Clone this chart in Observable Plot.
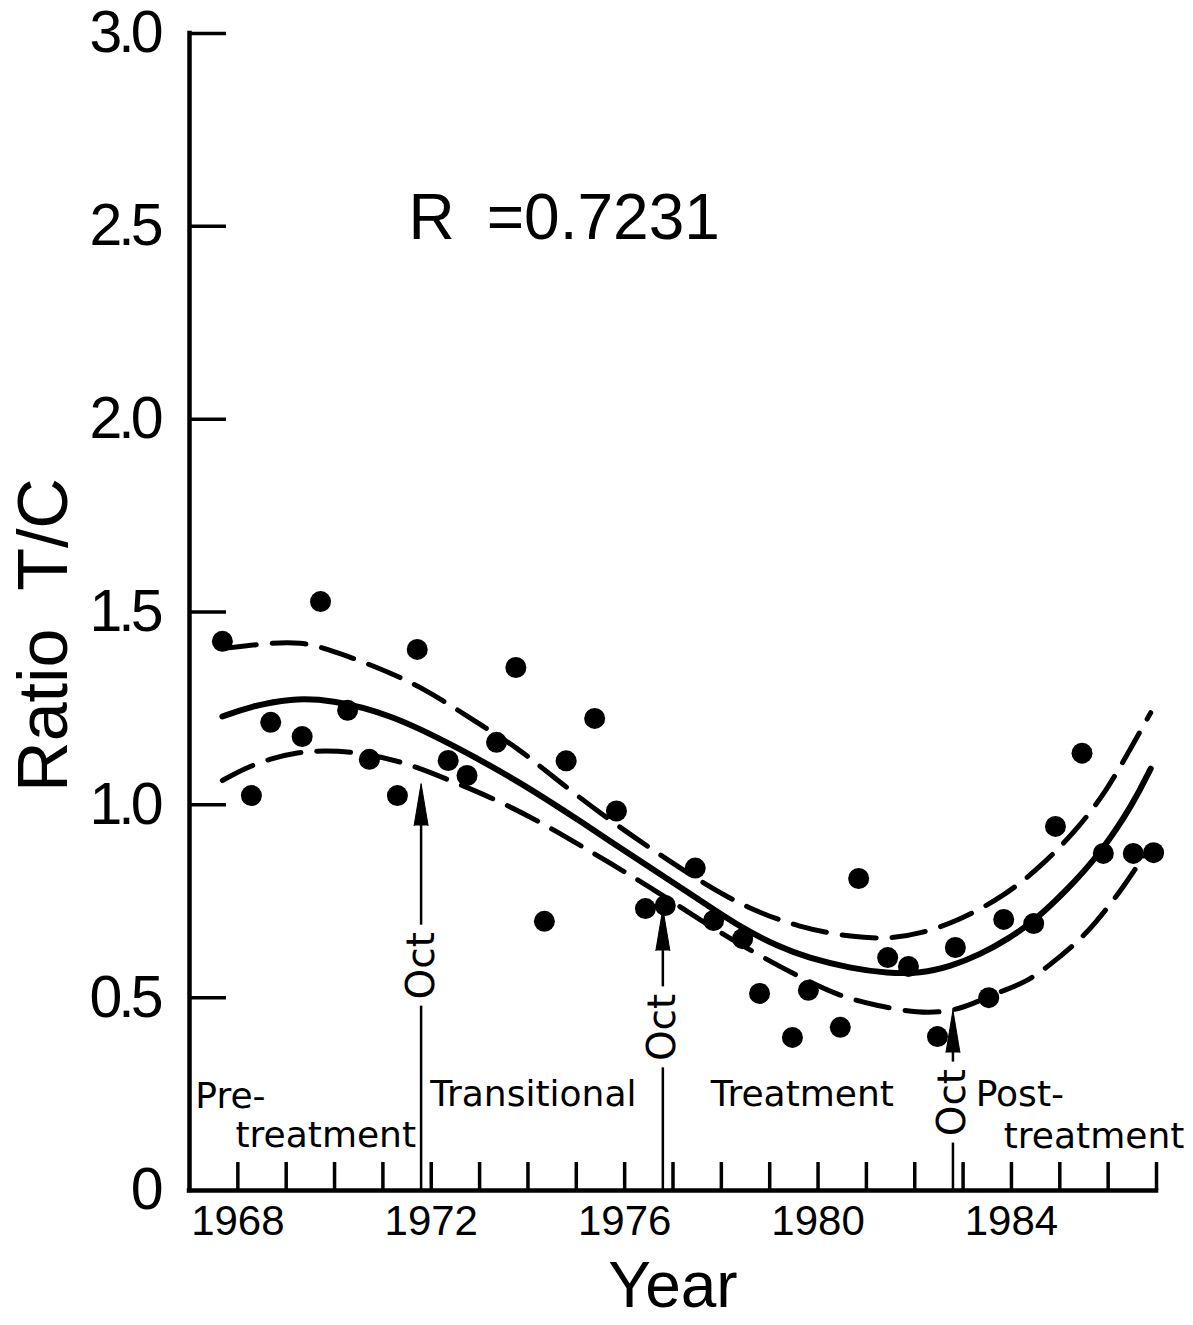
<!DOCTYPE html>
<html>
<head>
<meta charset="utf-8">
<script src="https://cdn.jsdelivr.net/npm/d3@7"></script>
<script src="https://cdn.jsdelivr.net/npm/@observablehq/plot@0.6"></script>
<style>
  html, body { margin: 0; padding: 0; background: #fff; }
  #chart svg { display: block; }
</style>
</head>
<body>
<div id="chart"></div>
<script>
// Observations: year and ratio T/C
const obsYear = [1967.68, 1968.28, 1968.68, 1969.33, 1969.71, 1970.27, 1970.72, 1971.30, 1971.71, 1972.35,
  1972.74, 1973.35, 1973.75, 1974.34, 1974.79, 1975.38, 1975.83, 1976.43, 1976.84, 1977.46,
  1977.84, 1978.44, 1978.79, 1979.47, 1979.80, 1980.46, 1980.84, 1981.44, 1981.87, 1982.47,
  1982.84, 1983.53, 1983.84, 1984.46, 1984.91, 1985.46, 1985.90, 1986.52, 1986.94];
const obsRatio = [1.424, 1.024, 1.214, 1.177, 1.527, 1.245, 1.118, 1.024, 1.403, 1.115,
  1.076, 1.162, 1.356, 0.698, 1.114, 1.224, 0.984, 0.731, 0.739, 0.836,
  0.700, 0.653, 0.511, 0.397, 0.519, 0.423, 0.809, 0.604, 0.581, 0.399,
  0.630, 0.500, 0.703, 0.692, 0.944, 1.134, 0.874, 0.874, 0.876];

// Fitted curve (solid)
const fitYear = [1967.68, 1968.26, 1969.09, 1969.92, 1971.16, 1972.54, 1973.85, 1975.09, 1976.33, 1977.57,
  1978.40, 1979.22, 1979.78, 1980.67, 1981.44, 1982.12, 1982.74, 1983.36, 1983.98, 1984.46,
  1985.12, 1985.84, 1986.52, 1986.88];
const fitRatio = [1.229, 1.255, 1.276, 1.273, 1.235, 1.149, 1.058, 0.957, 0.853, 0.752,
  0.682, 0.630, 0.604, 0.576, 0.563, 0.563, 0.581, 0.612, 0.656, 0.698,
  0.775, 0.874, 1.003, 1.094];

// Upper confidence band (dashed)
const upperYear = [1967.68, 1968.74, 1969.30, 1969.77, 1970.81, 1971.84, 1972.87, 1973.78, 1974.53, 1975.56,
  1976.53, 1977.57, 1978.50, 1979.60, 1980.73, 1981.50, 1982.12, 1982.88, 1983.84, 1984.66,
  1985.43, 1985.99, 1986.42, 1986.88];
const upperRatio = [1.405, 1.421, 1.421, 1.408, 1.361, 1.304, 1.219, 1.149, 1.071, 0.972,
  0.887, 0.801, 0.734, 0.682, 0.656, 0.653, 0.666, 0.698, 0.762, 0.845,
  0.946, 1.042, 1.136, 1.239];

// Lower confidence band (dashed)
const lowerYear = [1967.68, 1968.12, 1968.68, 1969.23, 1969.77, 1970.54, 1971.47, 1972.40, 1973.54, 1974.67,
  1975.71, 1976.74, 1977.57, 1978.67, 1979.64, 1980.46, 1981.19, 1982.08, 1982.74, 1983.22,
  1983.77, 1984.29, 1984.81, 1985.28, 1985.70, 1986.32, 1986.88];
const lowerRatio = [1.063, 1.094, 1.120, 1.136, 1.141, 1.136, 1.110, 1.063, 1.003, 0.926,
  0.848, 0.770, 0.700, 0.617, 0.552, 0.503, 0.480, 0.459, 0.464, 0.485,
  0.516, 0.539, 0.586, 0.635, 0.687, 0.786, 0.895];

// Axes
const tickYears = [1968, 1969, 1970, 1971, 1972, 1973, 1974, 1975, 1976, 1977,
  1978, 1979, 1980, 1981, 1982, 1983, 1984, 1985, 1986, 1987];
const labelYears = [1968, 1972, 1976, 1980, 1984];
const yTickValues = [0.5, 1.0, 1.5, 2.0, 2.5, 3.0];
const yLabelValues = [0, 0.5, 1.0, 1.5, 2.0, 2.5, 3.0];
const xDomain = [1967, 1987];
const yDomain = [0, 3];

// "Oct" markers
const octYear = [1971.79, 1976.79, 1982.79];
const octTip = [1.055, 0.731, 0.467];
const octLabelAt = [0.583, 0.423, 0.228];

// Phase labels
const phaseText = ["Pre-", "treatment", "Transitional", "Treatment", "Post-", "treatment"];
const phaseYear = [1967.12, 1967.95, 1971.98, 1977.78, 1983.26, 1983.84];
const phaseRatio = [0.245, 0.143, 0.250, 0.250, 0.250, 0.140];

// Annotation
const rText = "R\u2002=0.7231";
const rYear = 1971.53;
const rRatio = 2.52;

// ---------- build ----------
const obs = obsYear.map((x, i) => ({x, y: obsRatio[i]}));
const fit = fitYear.map((x, i) => ({x, y: fitRatio[i]}));
const upper = upperYear.map((x, i) => ({x, y: upperRatio[i]}));
const lower = lowerYear.map((x, i) => ({x, y: lowerRatio[i]}));
const gap = 0.105;
const octLower = octYear.map((x, i) => ({x, y1: yDomain[0], y2: octLabelAt[i] - gap}));
const octUpper = octYear.map((x, i) => ({x, y1: octLabelAt[i] + gap, y2: octTip[i] - 0.03}));
const octHeads = octYear.map((x, i) => ({x, y: octTip[i]}));
const octLabels = octYear.map((x, i) => ({x, y: octLabelAt[i]}));
const phases = phaseText.map((t, i) => ({t, x: phaseYear[i], y: phaseRatio[i]}));

const WORD = "DejaVu Sans";
const NUM = "Liberation Sans";

const frameH = 1190 - 33;
const frameW = 1156 - 189;

const chart = Plot.plot({
  width: 1193,
  height: 1325,
  marginLeft: 189,
  marginRight: 37,
  marginTop: 33,
  marginBottom: 135,
  x: {domain: xDomain},
  y: {domain: yDomain},
  style: {background: "#fff", color: "#000", fontFamily: NUM},
  marks: [
    // tick labels from the library's axes
    Plot.axisX({ticks: labelYears, tickSize: 0, tickPadding: 15, tickFormat: d => String(d),
      fontSize: 42, fontFamily: NUM, label: null}),
    Plot.axisY({ticks: yLabelValues, tickSize: 0, tickPadding: 30,
      tickFormat: d => d === 0 ? "0" : d.toFixed(1), fontSize: 59, fontFamily: NUM, label: null}),
    // inward ticks
    Plot.tickX(tickYears, {x: d => d, stroke: "#000", strokeWidth: 3.5, insetTop: frameH - 28}),
    Plot.tickY(yTickValues, {y: d => d, stroke: "#000", strokeWidth: 3.5, insetRight: frameW - 37}),
    // axis lines
    Plot.ruleX([xDomain[0]], {x: d => d, y1: yDomain[0], y2: yDomain[1], stroke: "#000", strokeWidth: 4.5, strokeLinecap: "square"}),
    Plot.ruleY([yDomain[0]], {y: d => d, x1: xDomain[0], x2: xDomain[1], stroke: "#000", strokeWidth: 4.5, strokeLinecap: "square"}),
    // Oct arrows
    Plot.ruleX(octLower, {x: "x", y1: "y1", y2: "y2", stroke: "#000", strokeWidth: 2.5}),
    Plot.ruleX(octUpper, {x: "x", y1: "y1", y2: "y2", stroke: "#000", strokeWidth: 2.5}),
    Plot.vector(octHeads, {x: "x", y: "y", length: 42, r: 7, shape: "spike", anchor: "end",
      fill: "#000", stroke: "#000", strokeWidth: 1}),
    Plot.text(octLabels, {x: "x", y: "y", text: () => "Oct", rotate: -90, fontSize: 39,
      fontFamily: WORD, fill: "#000"}),
    // curves
    Plot.line(upper, {x: "x", y: "y", curve: "basis", stroke: "#000", strokeWidth: 5,
      strokeDasharray: "34,16", strokeLinecap: "round"}),
    Plot.line(lower, {x: "x", y: "y", curve: "basis", stroke: "#000", strokeWidth: 5,
      strokeDasharray: "34,16", strokeLinecap: "round"}),
    Plot.line(fit, {x: "x", y: "y", curve: "basis", stroke: "#000", strokeWidth: 6,
      strokeLinecap: "round"}),
    // observations
    Plot.dot(obs, {x: "x", y: "y", r: 10.5, fill: "#000", stroke: "none"}),
    // phase labels
    Plot.text(phases, {x: "x", y: "y", text: "t", textAnchor: "start", fontSize: 36,
      fontFamily: WORD, fill: "#000"}),
    // R annotation
    Plot.text([rText], {x: () => rYear, y: () => rRatio, text: d => d, textAnchor: "start",
      fontSize: 64, fontFamily: NUM, fill: "#000"}),
    // axis titles
    Plot.text(["Year"], {frameAnchor: "bottom", lineAnchor: "middle", textAnchor: "middle", dy: 96,
      text: d => d, fontSize: 64, fontFamily: NUM, fill: "#000"}),
    Plot.text(["Ratio  T/C"], {frameAnchor: "left", textAnchor: "middle", lineAnchor: "middle",
      dx: -145, dy: 23, rotate: -90, text: d => d, fontSize: 70, fontFamily: NUM, fill: "#000"})
  ]
});

document.getElementById("chart").appendChild(chart);
d3.select(chart).selectAll('g[aria-label="y-axis tick label"] text').style("letter-spacing", "-4px");
d3.select(chart).selectAll("text").style("white-space", "pre");
</script>
</body>
</html>
